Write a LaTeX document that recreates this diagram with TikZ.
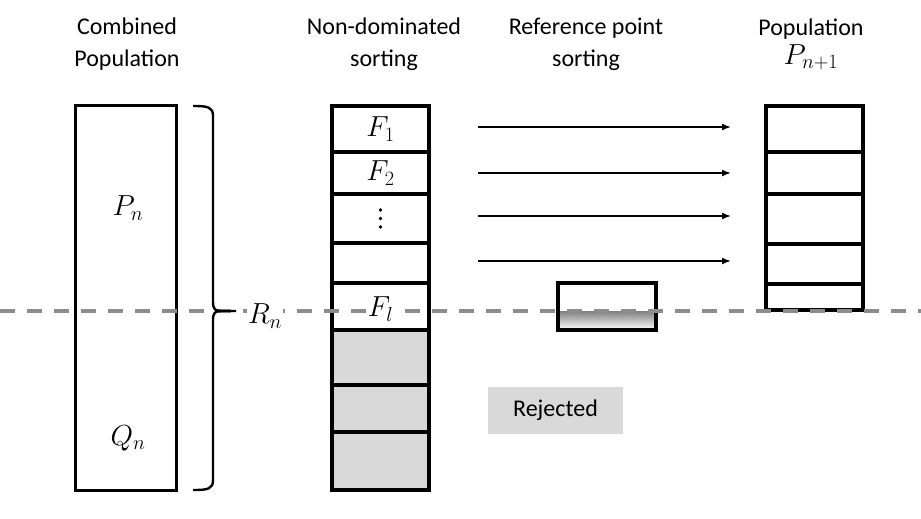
\RequirePackage{fix-cm}
\documentclass[tikz,border=0pt]{standalone}
\usepackage{fontspec}
\setmainfont{Carlito}
\usetikzlibrary{arrows.meta}
\definecolor{shade}{HTML}{D9D9D9}
\definecolor{cutline}{HTML}{8C8C8C}
\begin{document}
\begin{tikzpicture}[x=1pt,y=-1pt,
  every node/.style={font=\fontsize{24}{32}\selectfont},
  mathsize/.style={font=\fontsize{29}{32}\selectfont},
  cell/.style={draw,fill=white,line width=3.2pt,minimum width=97pt,inner sep=0pt,mathsize},
  graycell/.style={cell,fill=shade},
  bigbox/.style={draw,line width=3pt,minimum width=101pt,minimum height=385pt,inner sep=0pt},
  header/.style={align=center},
  mathlabel/.style={fill=white,inner sep=0.6pt,mathsize},
  flow/.style={line width=1.5pt,-{Latex[length=9pt,width=7pt]}},
  cut/.style={cutline,line width=3.6pt,dash pattern=on 15pt off 12pt},
  bracepart/.style={line width=2.4pt,line join=round},
]
\useasboundingbox (0,0) rectangle (921,519);

% column headers
\node[header] (h1) at (127,44) {Combined\\Population};
\node[header] (h2) at (384,44) {Non-dominated\\sorting};
\node[header] (h3) at (586,44) {Reference point\\sorting};
\node[header] (h4) at (811,44) {Population\\[-3pt]{\fontsize{29}{32}\selectfont$P_{n+1}$}};

% combined population R_n = P_n + Q_n
\node[bigbox] (comb) at (125.5,297.5) {};
\node[mathsize] (pn) at (128,208) {$P_n$};
\node[mathsize] (qn) at (128,438) {$Q_n$};

% non-dominated fronts
\node[cell,minimum height=46pt] (f1) at (380.5,129) {$F_1$};
\node[cell,minimum height=42pt] (f2) at (380.5,173) {$F_2$};
\node[cell,minimum height=49pt] (f3) at (380.5,218.5) {};
\foreach \d in {-8.5,0,8.5}
  \fill ([yshift=-\d pt]f3.center) circle (1.9pt);
\node[cell,minimum height=40pt] (f4) at (380.5,263) {};
\node[cell,minimum height=47pt] (fl) at (380.5,306.5) {};
\node[graycell,minimum height=55pt] (g1) at (380.5,357.5) {};
\node[graycell,minimum height=47pt] (g2) at (380.5,408.5) {};
\node[graycell,minimum height=58pt] (g3) at (380.5,461) {};

% reference point selection on the last front
\fill[shade] (558,311) rectangle (656,330);
\node[draw,line width=3.2pt,minimum width=98pt,minimum height=47pt,inner sep=0pt] (sel) at (607,306.5) {};

% next population
\node[cell,minimum height=46pt] (p1) at (814.5,129) {};
\node[cell,minimum height=42pt] (p2) at (814.5,173) {};
\node[cell,minimum height=50pt] (p3) at (814.5,219) {};
\node[cell,minimum height=40pt] (p4) at (814.5,264) {};
\node[cell,minimum height=26pt] (p5) at (814.5,297) {};

% fronts copied across
\coordinate (a1) at (478,127); \coordinate (b1) at (731,127);
\coordinate (a2) at (478,173); \coordinate (b2) at (731,173);
\coordinate (a3) at (478,216); \coordinate (b3) at (731,216);
\coordinate (a4) at (478,261); \coordinate (b4) at (731,261);
\draw[flow] (a1) -- (b1);
\draw[flow] (a2) -- (b2);
\draw[flow] (a3) -- (b3);
\draw[flow] (a4) -- (b4);

% rejected members
\node[fill=shade,minimum width=135pt,minimum height=47pt,inner sep=0pt] (rej) at (555.5,410.5) {Rejected};

% cut-off line
\coordinate (cutL) at (0,311);
\coordinate (cutR) at (921,311);
\draw[cut] (cutL) -- (cutR);

% brace grouping P_n and Q_n into R_n
\draw[bracepart]
  (193,106) .. controls (208,106) and (213,107) .. (213,116) -- (213,302)
  .. controls (213,309) and (215,311) .. (221,311) -- (236,311);
\draw[bracepart]
  (221,311) .. controls (215,311) and (213,313) .. (213,320) -- (213,480)
  .. controls (213,489) and (208,490) .. (193,490);

\node[mathlabel] (flt) at (380.5,309) {$F_l$};
\node[mathlabel] (rn) at (265,316) {$R_n$};
\end{tikzpicture}
\end{document}
